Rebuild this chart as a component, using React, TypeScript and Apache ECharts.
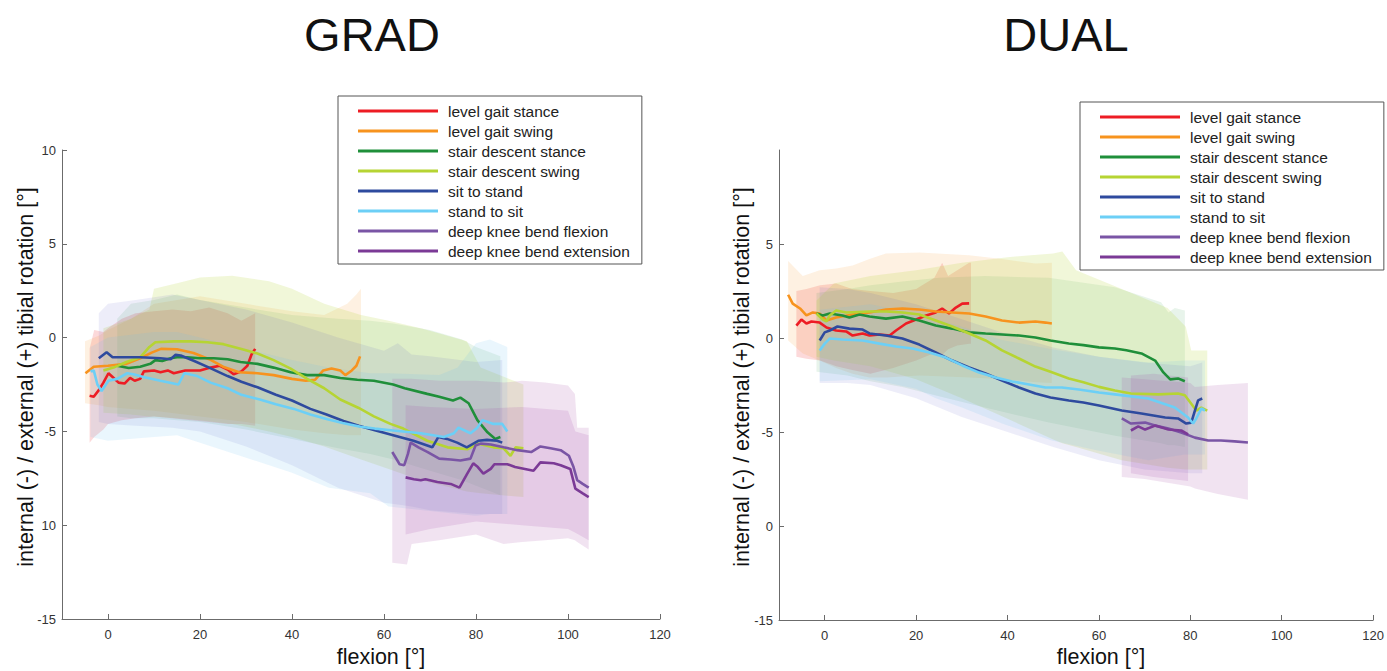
import React, { useEffect, useRef } from "react";
import * as echarts from "echarts";

type P = [number, number];
type B = [number, number, number]; // flexion, lower, upper

const FONT = "'Liberation Sans', Arial, Helvetica, sans-serif";

const seriesNames = [
  "level gait stance",
  "level gait swing",
  "stair descent stance",
  "stair descent swing",
  "sit to stand",
  "stand to sit",
  "deep knee bend flexion",
  "deep knee bend extension",
];
const lineColors = ["#ed1c24", "#f7931e", "#1f8f3a", "#b6d433", "#2e4a9e", "#6ccff6", "#7a55a5", "#7b3a96"];
const bandColors = [
  "rgba(237,28,36,0.17)",
  "rgba(247,147,30,0.13)",
  "rgba(31,143,58,0.10)",
  "rgba(182,212,51,0.19)",
  "rgba(80,80,200,0.10)",
  "rgba(108,190,240,0.14)",
  "rgba(170,80,170,0.16)",
  "rgba(160,70,165,0.15)",
];

const panelTitles = ["GRAD", "DUAL"];
const xTicks = [0, 20, 40, 60, 80, 100, 120];
const gradYTickValues = [-15, -10, -5, 0, 5, 10];
const gradYTickLabels = ["-15", "10", "-5", "0", "5", "10"];
const dualYTickValues = [-15, -10, -5, 0, 5];
const dualYTickLabels = ["-15", "0", "-5", "0", "5"];
const xTitle = "flexion [°]";
const yTitle = "internal (-) / external (+) tibial rotation [°]";

// ---------- GRAD mean curves ----------
const gradLevelStance: P[] = [[-4.0,-3.1],[-3.1,-3.15],[-2,-2.8],[-1,-2.4],[0.1,-1.9],[1,-2.1],[2.3,-2.4],[3.6,-2.45],[4.8,-2.15],[5.8,-2.3],[7,-2.2],[7.8,-1.8],[10,-1.75],[11.4,-1.85],[13,-1.75],[14.3,-1.9],[16.8,-1.75],[20,-1.75],[22.3,-1.6],[24.3,-1.5],[26,-1.7],[27.3,-1.95],[29,-1.8],[30.3,-1.5],[31.2,-0.9],[32,-0.6]];
const gradLevelSwing: P[] = [[-4.9,-1.9],[-3.1,-1.55],[0,-1.5],[4,-1.4],[7,-1.1],[9.5,-0.8],[11.5,-0.6],[15,-0.62],[18.6,-0.82],[22,-1.15],[25,-1.55],[28.5,-1.85],[32.5,-1.9],[36,-2.0],[40,-2.2],[43,-2.3],[45,-2.25],[46.8,-1.75],[48.6,-1.65],[50.5,-1.75],[51.6,-2.0],[53,-1.75],[54,-1.5],[54.8,-1.0]];
const gradStairStance: P[] = [[2,-1.5],[4.5,-1.62],[7,-1.55],[9.2,-1.4],[10.3,-1.2],[11.8,-1.25],[13.6,-1.1],[15,-1.05],[17.2,-1.05],[20,-1.1],[23,-1.1],[26,-1.15],[28.8,-1.3],[32.5,-1.4],[36,-1.6],[39.7,-1.85],[43.3,-2.0],[47,-2.0],[50.5,-2.15],[54.2,-2.25],[57.8,-2.3],[62,-2.5],[64.5,-2.7],[69.4,-3.0],[72,-3.15],[75,-3.35],[76.6,-3.2],[78.4,-3.5],[80.3,-4.4],[82.5,-5.05],[84.2,-5.4],[85.3,-5.3]];
const gradStairSwing: P[] = [[-1,-1.75],[1.2,-1.6],[4,-1.3],[7,-1.05],[9,-0.5],[10.3,-0.25],[14.3,-0.2],[18,-0.2],[21.6,-0.25],[25.1,-0.35],[28.8,-0.6],[32.5,-0.85],[36,-1.2],[39.7,-1.65],[43.3,-2.2],[47,-2.7],[50.5,-3.3],[54.5,-3.75],[57.8,-4.2],[61.4,-4.6],[64.2,-4.85],[69.4,-5.5],[73.8,-5.85],[78.2,-5.95],[80.3,-5.65],[83.8,-5.85],[86,-5.9],[87.5,-6.3],[88.6,-5.85],[90.3,-5.9]];
const gradSitToStand: P[] = [[-2,-1.1],[-0.3,-0.78],[1,-1.05],[7,-1.05],[11.4,-1.1],[13.6,-1.15],[14.7,-0.92],[15.8,-0.95],[18.5,-1.22],[22,-1.6],[26,-2.05],[29,-2.35],[32.5,-2.65],[36.5,-3.05],[40,-3.35],[44,-3.8],[47.5,-4.1],[51.2,-4.45],[54.5,-4.7],[58.2,-4.95],[62,-5.2],[66.4,-5.5],[70.5,-5.85],[71.8,-5.3],[73.7,-5.4],[75.9,-5.6],[78,-5.85],[80.5,-5.5],[82.4,-5.45],[84.6,-5.5],[85.7,-5.6]];
const gradStandToSit: P[] = [[-3.8,-1.8],[-3.1,-1.75],[-2.3,-2.5],[-1.4,-2.85],[0.1,-2.3],[2,-2.2],[4.2,-1.9],[5.5,-1.95],[7.7,-2.1],[11.4,-2.3],[15.3,-2.5],[16.6,-1.9],[19.4,-2.05],[22.3,-2.4],[26,-2.7],[29,-3.05],[33,-3.3],[36.5,-3.55],[40.4,-3.8],[44,-4.1],[47.7,-4.35],[51,-4.55],[54.9,-4.75],[58,-4.85],[62,-4.95],[68,-5.1],[73,-5.3],[75.2,-5.1],[76.2,-4.8],[78.8,-5.1],[80.3,-4.8],[81.4,-4.4],[83.8,-4.6],[85.7,-4.6],[86.8,-5.0]];
const gradDkbFlexion: P[] = [[61.8,-6.1],[63.4,-6.75],[64.4,-6.8],[65.2,-6.2],[65.8,-5.6],[67.5,-5.85],[69.5,-6.1],[72,-6.45],[74.5,-6.5],[76.6,-6.55],[78.8,-6.45],[79.9,-5.75],[81,-5.65],[83.2,-5.7],[86,-5.85],[89,-6.0],[92,-6.1],[94,-5.8],[96.2,-5.9],[98.4,-6.0],[100.2,-6.3],[101.2,-6.9],[102,-7.6],[103.2,-7.8],[104.5,-8.0]];
const gradDkbExtension: P[] = [[64.7,-7.45],[66.5,-7.55],[68,-7.6],[69,-7.55],[71.6,-7.7],[74.5,-7.8],[76.4,-8.0],[78.1,-7.25],[79.4,-6.7],[80.4,-6.9],[81.6,-7.25],[83.2,-7.0],[84,-6.75],[86.8,-6.75],[88.5,-6.9],[92.5,-7.1],[94,-6.65],[96.9,-6.7],[98.4,-6.8],[100.5,-7.0],[101.6,-8.05],[103.2,-8.3],[104.5,-8.5]];

// ---------- GRAD bands [flexion, lower, upper] ----------
const gradLevelStanceBand: B[] = [[-4,-5.6,-0.6],[-3,-5.3,0.4],[-1,-4.9,0.3],[0,-4.6,0.5],[3,-4.4,1.0],[6,-4.3,1.3],[10,-4.2,1.4],[14,-4.3,1.5],[18,-4.4,1.4],[22,-4.5,1.6],[26,-4.6,1.3],[29,-4.6,0.9],[32,-4.7,1.3]];
const gradLevelSwingBand: B[] = [[-5,-3.5,-0.2],[-2,-3.6,0.1],[0,-3.7,0.4],[5,-3.8,1.0],[10,-3.9,1.8],[20,-4.2,2.2],[30,-4.5,1.8],[40,-4.9,1.4],[47,-5.1,1.2],[52,-5.2,1.8],[54,-5.2,2.3],[55,-5.2,2.6]];
const gradStairStanceBand: B[] = [[2,-4.2,1.0],[5,-4.3,1.8],[10,-4.3,2.0],[15,-4.4,2.3],[20,-4.5,2.0],[30,-4.9,1.6],[40,-5.4,1.2],[50,-5.9,1.0],[57,-6.2,0.9],[62,-6.5,0.75],[70,-7.1,0.4],[77,-7.6,-0.1],[80,-7.9,-0.5],[85.3,-8.4,-1.0]];
const gradStairSwingBand: B[] = [[-1,-4.0,0.5],[5,-4.1,1.0],[9,-4.2,1.5],[10,-4.2,2.6],[15,-4.3,2.9],[20,-4.4,3.2],[27,-4.6,3.3],[35,-5.0,3.0],[40,-5.3,2.6],[47,-5.8,1.8],[55,-6.5,1.2],[61,-7.0,0.9],[68,-7.6,0.5],[78,-8.2,-0.2],[81,-8.3,-1.6],[90.3,-8.5,-2.5]];
const gradSitToStandBand: B[] = [[-2,-4.5,1.3],[0,-4.6,1.8],[6,-4.7,2.0],[14,-4.8,2.3],[20,-5.0,2.0],[30,-5.8,1.5],[40,-6.8,0.8],[50,-8.0,0.0],[60,-8.8,-0.7],[63,-8.9,-0.3],[66,-9.0,-0.9],[70,-9.2,-1.0],[80,-9.4,-1.3],[85.7,-9.4,-1.2]];
const gradStandToSitBand: B[] = [[-3.8,-5.3,-0.5],[0,-5.5,0.0],[10,-5.3,0.3],[15,-5.2,0.3],[20,-5.6,0.0],[30,-6.4,-0.6],[40,-7.2,-1.2],[48,-8.0,-1.6],[57,-8.3,-1.9],[61,-9.0,-1.9],[72,-9.3,-2.0],[76,-9.4,-1.6],[80,-9.5,-0.3],[83,-9.4,-0.1],[86.8,-9.4,-0.5]];
const gradDkbFlexionBand: B[] = [[61.8,-12.0,-2.2],[65,-12.1,-2.2],[66,-11.0,-2.2],[72,-10.8,-2.3],[80,-10.5,-2.3],[86,-11.0,-2.4],[90,-10.9,-2.3],[95,-10.8,-2.4],[100,-10.7,-2.55],[101.5,-10.8,-3.0],[102,-10.9,-4.8],[104.5,-11.3,-4.8]];
const gradDkbExtensionBand: B[] = [[64.7,-10.5,-3.6],[70,-10.2,-3.7],[80,-9.8,-3.8],[90,-10.0,-3.7],[100,-10.2,-3.9],[101.6,-10.4,-5.0],[104.5,-10.8,-5.2]];

// ---------- DUAL mean curves ----------
const dualLevelStance: P[] = [[-6.2,0.66],[-5.1,0.98],[-4,0.77],[-2.9,0.88],[-1.1,0.82],[0.4,0.56],[2.5,0.4],[4.7,0.35],[6.1,0.13],[8.3,0.24],[9.8,0.13],[12,0.19],[14.2,0.13],[15.6,0.4],[17.8,0.77],[20,0.98],[22.2,1.2],[24.3,1.36],[25.7,1.57],[27.2,1.3],[28.7,1.62],[30.1,1.83],[31.6,1.84]];
const dualLevelSwing: P[] = [[-8,2.3],[-7,1.83],[-5.4,1.57],[-4,1.2],[-2.6,1.36],[-1.1,1.3],[0.4,0.93],[2.5,1.09],[6.1,1.25],[9.8,1.36],[13.4,1.52],[17,1.57],[20.7,1.52],[24.3,1.41],[27.9,1.36],[31.6,1.3],[35.2,1.14],[38.8,0.93],[42.5,0.82],[46.1,0.88],[48.3,0.82],[49.7,0.77]];
const dualStairStance: P[] = [[-1.8,1.3],[-0.4,1.2],[1.1,1.3],[3.9,1.2],[5.4,1.09],[7.6,1.25],[9.8,1.14],[13.4,1.03],[17,1.14],[20.7,0.93],[24.3,0.66],[27.9,0.5],[31.6,0.3],[35.2,0.24],[38.8,0.19],[42.5,0.13],[46.1,0.03],[49.4,-0.13],[53.4,-0.29],[56.6,-0.38],[60,-0.5],[63.5,-0.56],[66,-0.65],[69.3,-0.82],[72.3,-1.2],[74.1,-1.83],[75.6,-2.2],[77.3,-2.15],[78.8,-2.3]];
const dualStairSwing: P[] = [[-1.8,1.3],[-0.4,0.98],[0.4,0.88],[1.1,1.2],[2.5,1.46],[4.7,1.36],[9.8,1.41],[13.4,1.41],[17,1.36],[20.7,1.25],[24.3,0.93],[27.9,0.61],[31.6,0.24],[35.2,-0.13],[38.8,-0.66],[42.5,-1.09],[46.1,-1.52],[49.4,-1.8],[53.4,-2.15],[56.6,-2.35],[60,-2.6],[63.5,-2.79],[67,-2.95],[73,-3.0],[77.3,-2.95],[78.8,-3.05],[80.2,-3.5],[81.3,-3.86],[82.4,-3.7],[83.7,-3.86]];
const dualSitToStand: P[] = [[-1.1,-0.13],[0,0.3],[1.1,0.4],[2.8,0.61],[5.4,0.5],[8.3,0.45],[9.8,0.24],[13.4,0.13],[17,-0.03],[20.7,-0.35],[24.3,-0.77],[27.9,-1.2],[31.6,-1.57],[35.2,-1.89],[38.8,-2.26],[42.5,-2.63],[46.1,-2.95],[49.4,-3.16],[53.4,-3.32],[56.6,-3.43],[60,-3.59],[65,-3.86],[69.3,-4.02],[74.5,-4.23],[77.3,-4.28],[79.1,-4.55],[80.2,-4.5],[81,-3.86],[81.7,-3.32],[82.6,-3.22]];
const dualStandToSit: P[] = [[-1.1,-0.66],[0,-0.3],[1.1,-0.03],[3.9,-0.08],[8.3,-0.13],[12,-0.3],[15.6,-0.45],[19.2,-0.56],[22.9,-0.77],[26.5,-1.04],[30.1,-1.46],[33.8,-1.84],[37.4,-2.1],[41,-2.31],[44.7,-2.47],[48.3,-2.63],[51.9,-2.63],[55.6,-2.74],[60,-2.9],[63.5,-3.0],[70.8,-3.22],[76.6,-3.7],[79.5,-4.23],[80.6,-4.55],[81.3,-4.28],[82.4,-3.75],[83.2,-3.86]];
const dualDkbFlexion: P[] = [[65,-4.28],[67,-4.55],[70.1,-4.5],[72.3,-4.66],[75.2,-4.82],[78,-5.03],[81,-5.3],[83.9,-5.45],[86.7,-5.45],[89.7,-5.5],[92.6,-5.56]];
const dualDkbExtension: P[] = [[67,-4.92],[68.6,-4.7],[70.1,-4.87],[72.3,-4.66],[75.2,-4.87],[78,-4.92],[79.5,-5.13]];

// ---------- DUAL bands [flexion, lower, upper] ----------
const dualLevelStanceBand: B[] = [[-6.2,-1.0,2.5],[-4,-1.1,2.6],[-1,-1.2,2.8],[2.5,-1.5,2.9],[6,-1.7,2.6],[10,-1.9,2.5],[15,-1.6,2.4],[20,-1.2,2.6],[24,-0.8,3.2],[25.7,-0.9,4.0],[27,-0.6,3.3],[29,-0.4,3.6],[31.6,-0.3,4.0],[32,-0.3,4.0]];
const dualLevelSwingBand: B[] = [[-8,-0.13,4.1],[-4.8,-0.82,3.3],[-1.1,-1.2,3.6],[2.5,-1.6,3.7],[6.1,-1.9,3.86],[9.8,-2.1,4.2],[13.4,-2.1,4.5],[20.7,-2.0,4.55],[31.6,-2.1,4.4],[38.8,-2.2,4.2],[46.1,-2.35,3.96],[49.7,-2.4,4.0]];
const dualStairStanceBand: B[] = [[-1.8,-1.8,2.4],[5,-2.0,2.6],[10,-2.3,2.8],[17,-2.6,3.0],[25,-3.1,3.2],[35,-3.7,3.3],[49,-4.5,3.2],[63.5,-5.2,2.7],[73.6,-5.6,1.9],[75.2,-5.7,1.36],[76.6,-5.7,1.6],[78.8,-5.8,1.46]];
const dualStairSwingBand: B[] = [[-1.8,-1.0,2.0],[2,-1.2,2.9],[10,-1.5,3.3],[20,-2.2,3.6],[30,-3.2,4.0],[40,-4.3,4.3],[50,-5.4,4.5],[52,-5.6,4.6],[55,-5.8,3.6],[65,-6.5,2.6],[75,-6.9,1.6],[79,-7.0,0.6],[80.2,-7.0,-0.66],[83.7,-7.0,-0.66]];
const dualSitToStandBand: B[] = [[-1.1,-2.4,2.7],[5,-2.4,2.6],[10,-2.5,2.4],[20,-3.2,1.8],[30,-4.2,1.0],[40,-5.0,0.2],[50,-5.8,-0.5],[60,-6.5,-1.0],[70,-7.0,-1.3],[80,-7.2,-1.5],[82.6,-7.2,-1.3]];
const dualStandToSitBand: B[] = [[-1.1,-2.3,1.5],[10,-2.2,1.8],[20,-2.7,1.3],[24.3,-3.2,1.0],[30,-3.7,0.6],[38.8,-4.55,-0.1],[49.7,-5.45,-0.6],[60,-6.0,-1.0],[70.8,-6.5,-1.3],[78.8,-6.2,-1.2],[83.2,-6.2,-1.2]];
const dualDkbFlexionBand: B[] = [[65,-7.4,-2.1],[70,-7.5,-2.2],[75,-7.7,-2.3],[80,-7.9,-2.4],[81,-8.0,-2.6],[86,-8.3,-2.5],[92.6,-8.6,-2.4]];
const dualDkbExtensionBand: B[] = [[67,-7.2,-2.0],[72,-7.4,-1.9],[79.5,-7.6,-2.1]];

const gradLines = [gradLevelStance, gradLevelSwing, gradStairStance, gradStairSwing, gradSitToStand, gradStandToSit, gradDkbFlexion, gradDkbExtension];
const gradBands = [gradLevelStanceBand, gradLevelSwingBand, gradStairStanceBand, gradStairSwingBand, gradSitToStandBand, gradStandToSitBand, gradDkbFlexionBand, gradDkbExtensionBand];
const dualLines = [dualLevelStance, dualLevelSwing, dualStairStance, dualStairSwing, dualSitToStand, dualStandToSit, dualDkbFlexion, dualDkbExtension];
const dualBands = [dualLevelStanceBand, dualLevelSwingBand, dualStairStanceBand, dualStairSwingBand, dualSitToStandBand, dualStandToSitBand, dualDkbFlexionBand, dualDkbExtensionBand];

function bandSeries(rows: B[], color: string, idx: number, name: string) {
  return {
    type: "custom",
    name,
    xAxisIndex: idx,
    yAxisIndex: idx,
    silent: true,
    z: 1,
    clip: true,
    data: rows,
    encode: { x: 0, y: [1, 2] },
    renderItem: (params: any, api: any) => {
      if (params.dataIndex !== 0) return null;
      const upper = rows.map((r) => api.coord([r[0], r[2]]));
      const lower = rows.slice().reverse().map((r) => api.coord([r[0], r[1]]));
      return {
        type: "polygon",
        shape: { points: upper.concat(lower) },
        style: { fill: color },
      };
    },
  };
}

function lineSeries(pts: P[], color: string, idx: number, name: string) {
  return {
    type: "line",
    name,
    xAxisIndex: idx,
    yAxisIndex: idx,
    data: pts,
    showSymbol: false,
    symbol: "none",
    silent: true,
    z: 3,
    lineStyle: { width: 2.6, color },
    itemStyle: { color },
  };
}

const axisGrey = "#6b6b6b";

function xAxisCfg(idx: number) {
  return {
    gridIndex: idx,
    type: "value",
    min: -10,
    max: 120,
    axisLine: { show: true, onZero: false, lineStyle: { color: axisGrey, width: 1 } },
    axisTick: { show: true, inside: true, length: 5, customValues: xTicks, lineStyle: { color: axisGrey } },
    axisLabel: { customValues: xTicks, fontSize: 13, color: "#333", margin: 9, fontFamily: FONT },
    splitLine: { show: false },
  };
}

function yAxisCfg(idx: number, values: number[], labels: string[]) {
  return {
    gridIndex: idx,
    type: "value",
    min: -15,
    max: 10,
    interval: 5,
    axisLine: { show: true, onZero: false, lineStyle: { color: axisGrey, width: 1 } },
    axisTick: { show: true, inside: true, length: 5, customValues: values, lineStyle: { color: axisGrey } },
    axisLabel: {
      customValues: values,
      fontSize: 13,
      color: "#333",
      margin: 6,
      fontFamily: FONT,
      formatter: (v: number) => {
        const i = values.indexOf(v);
        return i >= 0 ? labels[i] : "";
      },
    },
    splitLine: { show: false },
  };
}

function legendCfg(left: number, top: number) {
  return {
    data: seriesNames,
    orient: "vertical",
    left,
    top,
    padding: [7, 12, 5, 20],
    itemGap: 4,
    itemWidth: 80,
    itemHeight: 3,
    icon: "rect",
    selectedMode: false,
    backgroundColor: "#ffffff",
    borderColor: "#555",
    borderWidth: 1,
    textStyle: { fontSize: 15.5, color: "#222", fontFamily: FONT, lineHeight: 16, padding: [0, 0, 0, 5] },
  };
}

function txt(x: number, y: number, text: string, size: number, rotation = 0) {
  return {
    type: "text",
    x,
    y,
    rotation,
    silent: true,
    style: {
      text,
      fontSize: size,
      fontFamily: FONT,
      fill: "#111",
      align: "center",
      verticalAlign: "middle",
      textAlign: "center",
      textVerticalAlign: "middle",
    },
  };
}

export default function App() {
  const ref = useRef<HTMLDivElement>(null);

  useEffect(() => {
    if (!ref.current) return;
    const chart = echarts.init(ref.current, undefined, { renderer: "svg" });

    const series: any[] = [];
    gradBands.forEach((b, i) => series.push(bandSeries(b, bandColors[i], 0, seriesNames[i] + " band")));
    dualBands.forEach((b, i) => series.push(bandSeries(b, bandColors[i], 1, seriesNames[i] + " band")));
    gradLines.forEach((l, i) => series.push(lineSeries(l, lineColors[i], 0, seriesNames[i])));
    dualLines.forEach((l, i) => series.push(lineSeries(l, lineColors[i], 1, seriesNames[i])));

    chart.setOption({
      animation: false,
      backgroundColor: "#ffffff",
      grid: [
        { left: 62, top: 150, width: 598, height: 469 },
        { left: 779, top: 150, width: 597, height: 470 },
      ],
      xAxis: [xAxisCfg(0), xAxisCfg(1)],
      yAxis: [yAxisCfg(0, gradYTickValues, gradYTickLabels), yAxisCfg(1, dualYTickValues, dualYTickLabels)],
      legend: [legendCfg(338, 96), legendCfg(1080, 102)],
      graphic: [
        txt(372, 34, panelTitles[0], 47),
        txt(1066, 34, panelTitles[1], 47),
        txt(381, 657, xTitle, 21.5),
        txt(1101, 657, xTitle, 21.5),
        txt(26, 377, yTitle, 21.5, Math.PI / 2),
        txt(742, 377, yTitle, 21.5, Math.PI / 2),
      ],
      series,
    });

    return () => chart.dispose();
  }, []);

  return (
    <div
      ref={ref}
      style={{ position: "fixed", left: 0, top: 0, width: 1387, height: 671, background: "#fff" }}
    />
  );
}
